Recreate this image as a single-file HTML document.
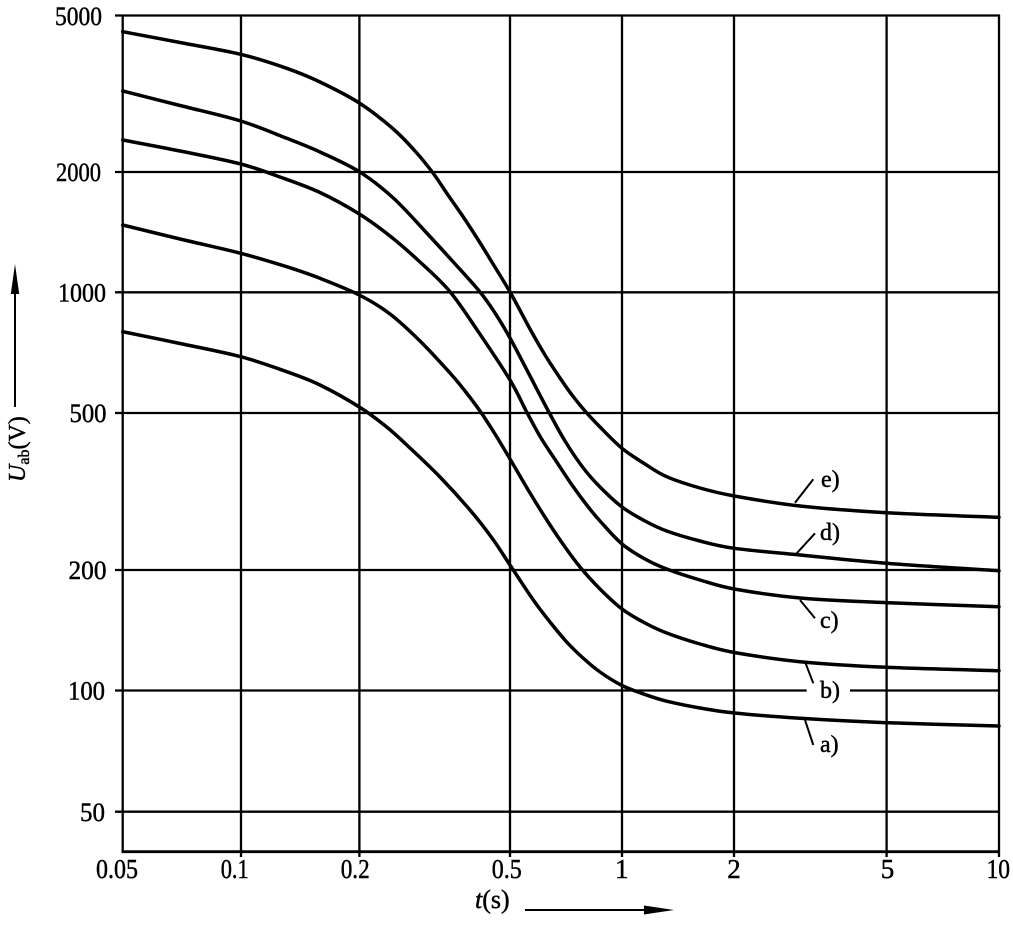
<!DOCTYPE html>
<html>
<head>
<meta charset="utf-8">
<style>
html,body{margin:0;padding:0;background:#fff;}
svg{display:block;}
text{font-family:"Liberation Serif",serif;fill:#000;stroke:#000;stroke-width:0.45;}
</style>
</head>
<body>
<svg id="chart" width="1013" height="929" viewBox="0 0 1013 929" xmlns="http://www.w3.org/2000/svg">
<rect width="1013" height="929" fill="#fff"/>
<g stroke="#000" stroke-width="2.3" fill="none">
  <line x1="115" y1="15.5" x2="1000" y2="15.5"/>
  <line x1="115" y1="172" x2="1000" y2="172"/>
  <line x1="115" y1="292.3" x2="1000" y2="292.3"/>
  <line x1="115" y1="413" x2="1000" y2="413"/>
  <line x1="115" y1="570" x2="1000" y2="570"/>
  <line x1="115" y1="690.5" x2="806.7" y2="690.5"/>
  <line x1="850" y1="690.5" x2="1000" y2="690.5"/>
  <line x1="115" y1="811.7" x2="1000" y2="811.7"/>
  <line x1="122.7" y1="15" x2="122.7" y2="852"/>
  <line x1="241" y1="15" x2="241" y2="857"/>
  <line x1="359.4" y1="15" x2="359.4" y2="857"/>
  <line x1="510" y1="15" x2="510" y2="857"/>
  <line x1="622" y1="15" x2="622" y2="857"/>
  <line x1="734" y1="15" x2="734" y2="857"/>
  <line x1="886.6" y1="15" x2="886.6" y2="857"/>
  <line x1="999" y1="15" x2="999" y2="857"/>
  <line x1="121.5" y1="851.7" x2="1000" y2="851.7" stroke-width="2.8"/>
</g>

<g id="curves" stroke="#000" stroke-width="3.5" fill="none" stroke-linejoin="round" stroke-linecap="round">
  <polyline class="cv" points="122.7,31.7 180,42.5 240.7,54.3 286.7,68.3 320,82 359.3,103 393.3,129 415,151 433,173 448,195 463.3,217 477,238 490,259 510,292 530,329 545,355 560,378 572,395 585,411 600,427 622,448.3 645,464 666.7,476.7 700,488 734.3,496 800,506 886.7,512.7 999,517.3"/>
  <polyline class="cv" points="122.7,91 180,105.5 240.7,121 286.7,138.3 320,152 359.3,171.7 393.3,198 426.7,233 453.3,262 480,292 495,313 510,338 530,376 548.3,411 565,441 583.3,468 600,487 622,507 645,521 666.7,531 700,541 734.3,548.3 800,555 886.7,563.3 999,570.7"/>
  <polyline class="cv" points="122.7,140 180,151 240.7,164 280,177 320,192.5 359.3,214 390,236 420,262 450,291.7 478.3,331.7 510,380 526.7,412 541,438 556.7,462 572,485 586.7,505 600,521 622,544 645,559 666.7,569 700,580 734.3,589 800,598 886.7,602.7 999,606.7"/>
  <polyline class="cv" points="122.7,225 180,239 240.7,253.3 286.7,266.7 320,278.3 359.3,295 390,314 420,341 450,373 465,391 480,411 495,434 510,459 530,493 550,525 565,547 580,567 600,589 622,609 645,623 666.7,633 700,644 734.3,652.5 800,661.7 886.7,667.3 999,670.7"/>
  <polyline class="cv" points="122.7,331.7 180,343.5 240.7,356.7 286.7,371.7 320,385 359.3,407 386.7,427 410,448 440,477 470,510 492,538 510,565 533.3,600 550,622 566.7,642 583,658 600,672 622,685.5 645,694.5 666.7,701.2 700,708 734.3,713 800,718.3 886.7,722.7 999,726"/>
</g>

<g stroke="#000" stroke-width="2" fill="none">
  <line x1="813.3" y1="479.3" x2="795" y2="502.7"/>
  <line x1="815" y1="533.3" x2="796.7" y2="553.3"/>
  <line x1="800" y1="600" x2="815" y2="618.3"/>
  <line x1="805" y1="661.7" x2="813.3" y2="683.3"/>
  <line x1="805" y1="720" x2="813.3" y2="745"/>
</g>
<g font-size="24">
  <text x="821" y="487">e)</text>
  <text x="820" y="540">d)</text>
  <text x="820" y="628">c)</text>
  <text x="820" y="698">b)</text>
  <text x="820" y="752">a)</text>
</g>

<g font-size="26" text-anchor="end">
  <text x="102" y="25" textLength="47" lengthAdjust="spacingAndGlyphs">5000</text>
  <text x="101" y="181" textLength="45" lengthAdjust="spacingAndGlyphs">2000</text>
  <text x="106" y="301.5" textLength="48" lengthAdjust="spacingAndGlyphs">1000</text>
  <text x="106.5" y="422" textLength="37" lengthAdjust="spacingAndGlyphs">500</text>
  <text x="106.5" y="579" textLength="38" lengthAdjust="spacingAndGlyphs">200</text>
  <text x="105" y="699.5" textLength="37" lengthAdjust="spacingAndGlyphs">100</text>
  <text x="105" y="821" textLength="25" lengthAdjust="spacingAndGlyphs">50</text>
</g>

<g font-size="27">
  <text x="96" y="878" textLength="42" lengthAdjust="spacingAndGlyphs">0.05</text>
  <text x="220.7" y="878" textLength="28" lengthAdjust="spacingAndGlyphs">0.1</text>
  <text x="340.7" y="878" textLength="29" lengthAdjust="spacingAndGlyphs">0.2</text>
  <text x="491.7" y="878" textLength="30" lengthAdjust="spacingAndGlyphs">0.5</text>
  <text x="621.7" y="878" text-anchor="middle">1</text>
  <text x="734" y="878" text-anchor="middle">2</text>
  <text x="887.5" y="878" text-anchor="middle">5</text>
  <text x="986.5" y="878" textLength="23.5" lengthAdjust="spacingAndGlyphs">10</text>
</g>

<text x="475" y="908" font-size="26"><tspan font-style="italic">t</tspan>(s)</text>
<line x1="525" y1="910" x2="650" y2="910" stroke="#000" stroke-width="2"/>
<path d="M644,905.5 L674,910 L644,914.5 Z" fill="#000"/>

<g transform="translate(25,482) rotate(-90)">
  <text x="0" y="0" font-size="24"><tspan font-style="italic">U</tspan><tspan font-size="16" dy="4">ab</tspan><tspan dy="-4">(V)</tspan></text>
</g>
<line x1="15" y1="290" x2="15" y2="407" stroke="#000" stroke-width="2"/>
<path d="M15,264 L10.8,294 L19.2,294 Z" fill="#000"/>
</svg>
<script>
(function(){
  var ns="http://www.w3.org/2000/svg";
  var pls=document.querySelectorAll("polyline.cv");
  for(var k=0;k<pls.length;k++){
    var pl=pls[k];
    var raw=pl.getAttribute("points").trim().split(/\s+/);
    var p=raw.map(function(s){var a=s.split(",");return [parseFloat(a[0]),parseFloat(a[1])];});
    var d="M"+p[0][0]+","+p[0][1];
    for(var i=0;i<p.length-1;i++){
      var p0=p[i>0?i-1:i],p1=p[i],p2=p[i+1],p3=p[i+2<p.length?i+2:i+1];
      var c1x=p1[0]+(p2[0]-p0[0])/6,c1y=p1[1]+(p2[1]-p0[1])/6;
      var c2x=p2[0]-(p3[0]-p1[0])/6,c2y=p2[1]-(p3[1]-p1[1])/6;
      d+=" C"+c1x.toFixed(2)+","+c1y.toFixed(2)+" "+c2x.toFixed(2)+","+c2y.toFixed(2)+" "+p2[0]+","+p2[1];
    }
    var path=document.createElementNS(ns,"path");
    path.setAttribute("d",d);
    pl.parentNode.insertBefore(path,pl);
    pl.parentNode.removeChild(pl);
  }
})();
</script>
</body>
</html>
